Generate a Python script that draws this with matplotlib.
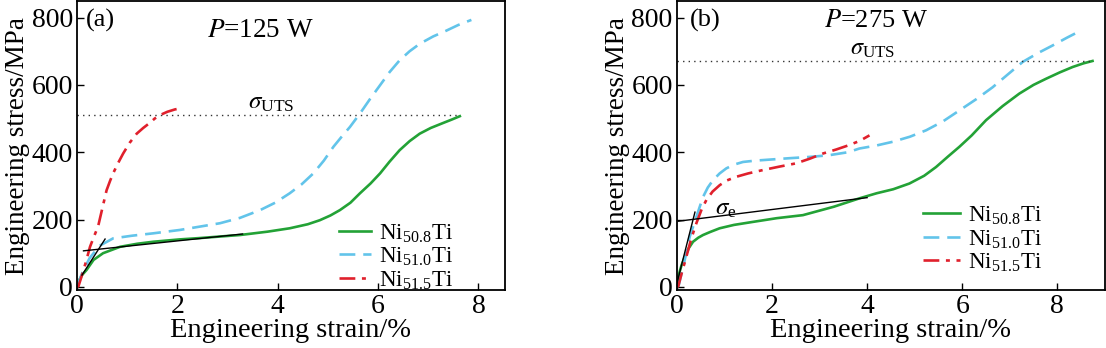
import matplotlib
matplotlib.use("Agg")
import matplotlib.pyplot as plt

plt.rcParams['font.family'] = ['Liberation Serif', 'DejaVu Serif']
plt.rcParams['mathtext.fontset'] = 'stix'

GREEN = '#23a236'
BLUE = '#62c4ea'
RED = '#e0202c'

# ---- P = 125 W ----
a_strain_508 = [0, 0.03, 0.1, 0.19, 0.33, 0.52, 0.86, 1.2, 1.52, 2.05, 2.45, 3.25, 3.8, 4.24, 4.6, 4.84, 5.05, 5.24, 5.45, 5.64, 5.85, 6.04, 6.23, 6.43, 6.63, 6.83, 7.05, 7.3, 7.47, 7.63]
a_stress_508 = [0, 16, 35, 50, 80, 100, 119, 128, 134, 141, 145, 154, 164, 174, 186, 198, 212, 228, 250, 278, 307, 337, 372, 406, 433, 455, 472, 487, 497, 507]
a_strain_510 = [0, 0.1, 0.25, 0.45, 0.72, 1.1, 1.52, 2.05, 2.45, 2.85, 3.25, 3.65, 3.95, 4.24, 4.48, 4.71, 4.92, 5.11, 5.28, 5.44, 5.64, 5.84, 6.04, 6.23, 6.43, 6.63, 6.83, 7.1, 7.36, 7.6, 7.86]
a_stress_510 = [0, 40, 85, 122, 144, 152, 159, 169, 179, 189, 205, 228, 250, 278, 305, 337, 375, 416, 447, 475, 515, 558, 599, 638, 673, 700, 722, 744, 761, 778, 793]
a_strain_515 = [0, 0.03, 0.1, 0.18, 0.26, 0.34, 0.42, 0.5, 0.59, 0.66, 0.72, 0.82, 0.92, 1.05, 1.19, 1.32, 1.45, 1.55, 1.65, 1.8, 1.95, 2.05]
a_stress_515 = [0, 2, 35, 75, 119, 150, 179, 230, 287, 315, 337, 368, 396, 428, 455, 472, 487, 500, 510, 520, 527, 530]
a_uts = 510
a_uts_end = 7.63

# ---- P = 275 W ----
b_strain_508 = [0, 0.03, 0.1, 0.17, 0.25, 0.34, 0.45, 0.55, 0.7, 0.9, 1.2, 1.6, 2.1, 2.65, 3.3, 3.84, 4.2, 4.55, 4.89, 5.2, 5.45, 5.7, 5.94, 6.2, 6.5, 6.85, 7.2, 7.5, 7.76, 8.05, 8.32, 8.55, 8.74]
b_stress_508 = [0, 31, 65, 90, 115, 134, 146, 154, 163, 174, 184, 193, 204, 213, 238, 263, 278, 290, 307, 330, 356, 387, 416, 450, 495, 537, 574, 600, 618, 637, 653, 664, 671]
b_strain_510 = [0, 0.04, 0.15, 0.27, 0.41, 0.55, 0.65, 0.76, 0.9, 1.04, 1.2, 1.39, 1.65, 1.95, 2.35, 2.79, 3.2, 3.6, 3.84, 4.2, 4.54, 4.9, 5.24, 5.6, 5.94, 6.3, 6.64, 6.95, 7.27, 7.6, 7.9, 8.2, 8.49]
b_stress_510 = [0, 5, 70, 149, 208, 267, 295, 317, 337, 352, 363, 371, 375, 378, 382, 386, 391, 400, 411, 420, 431, 446, 465, 492, 524, 558, 593, 630, 668, 695, 717, 740, 761]
b_strain_515 = [0, 0.03, 0.1, 0.2, 0.3, 0.41, 0.52, 0.62, 0.75, 0.9, 1.05, 1.25, 1.5, 1.81, 2.15, 2.51, 2.8, 3.07, 3.35, 3.62, 3.85, 4.05]
b_stress_515 = [0, 2, 40, 90, 142, 189, 230, 258, 283, 302, 316, 327, 337, 347, 357, 367, 381, 396, 408, 421, 434, 450]
b_uts = 671
b_uts_end = 8.74

labels = [r'Ni$_{\mathregular{50.8}}$Ti', r'Ni$_{\mathregular{51.0}}$Ti', r'Ni$_{\mathregular{51.5}}$Ti']

fig = plt.figure(figsize=(11.06, 3.48), dpi=100)
ax1 = fig.add_axes([0.0696, 0.167, 0.387, 0.829])
ax2 = fig.add_axes([0.612, 0.167, 0.387, 0.829])


def style(ax, xmax):
    ax.set_xlim(0, xmax)
    ax.set_ylim(-9, 848)
    ax.set_xticks([0, 2, 4, 6, 8])
    ax.set_yticks([0, 200, 400, 600, 800])
    ax.tick_params(direction='in', length=5, width=1, labelsize=20, pad=3)
    ax.set_xlabel('Engineering strain/%', fontsize=20.5, labelpad=-1)
    ax.set_ylabel('Engineering stress/MPa', fontsize=19.5, labelpad=1)
    for s in ax.spines.values():
        s.set_linewidth(1.3)


def curves(ax, d):
    l1, = ax.plot(d[0], d[1], color=GREEN, lw=1.9)
    l2, = ax.plot(d[2], d[3], color=BLUE, lw=1.9, dashes=(6, 3))
    l3, = ax.plot(d[4], d[5], color=RED, lw=1.9, dashes=(6, 2.5, 1.5, 2.5))
    return [l1, l2, l3]


h = curves(ax1, [a_strain_508, a_stress_508, a_strain_510, a_stress_510, a_strain_515, a_stress_515])
ax1.plot([0, a_uts_end], [a_uts, a_uts], color='#333333', lw=1, ls=(0, (1, 3)))
ax1.plot([0.13, 3.3], [107, 157], color='black', lw=1)
ax1.plot([0.1, 0.56], [35, 142], color='black', lw=1)
ax1.text(0.18, 790, '(a)', fontsize=19, va='center')
ax1.text(2.6, 762, r'$P$=125 W', fontsize=19.5, va='center')
ax1.text(3.4, 545, r'$\sigma_{\mathregular{UTS}}$', fontsize=18, va='center')
style(ax1, 8.53)
ax1.legend(h, labels, loc='lower left', bbox_to_anchor=(0.575, -0.058), frameon=False,
           fontsize=16.5, handlelength=1.4, handletextpad=0.35, labelspacing=0.05, borderpad=0.2)

h = curves(ax2, [b_strain_508, b_stress_508, b_strain_510, b_stress_510, b_strain_515, b_stress_515])
ax2.plot([0, b_uts_end], [b_uts, b_uts], color='#333333', lw=1, ls=(0, (1, 3)))
ax2.plot([0.03, 4.0], [195, 265], color='black', lw=1)
ax2.plot([0.0, 0.38], [10, 222], color='black', lw=1)
ax2.text(0.27, 792, '(b)', fontsize=19, va='center')
ax2.text(3.1, 790, r'$P$=275 W', fontsize=19, va='center')
ax2.text(3.65, 705, r'$\sigma_{\mathregular{UTS}}$', fontsize=17.5, va='center')
ax2.text(0.8, 232, r'$\sigma_{\mathregular{e}}$', fontsize=18, va='center')
style(ax2, 9.0)
ax2.legend(h, labels, loc='lower left', bbox_to_anchor=(0.538, 0.004), frameon=False,
           fontsize=16.5, handlelength=1.6, handletextpad=0.35, labelspacing=0.05, borderpad=0.2)

fig.savefig('out.png', dpi=100)
